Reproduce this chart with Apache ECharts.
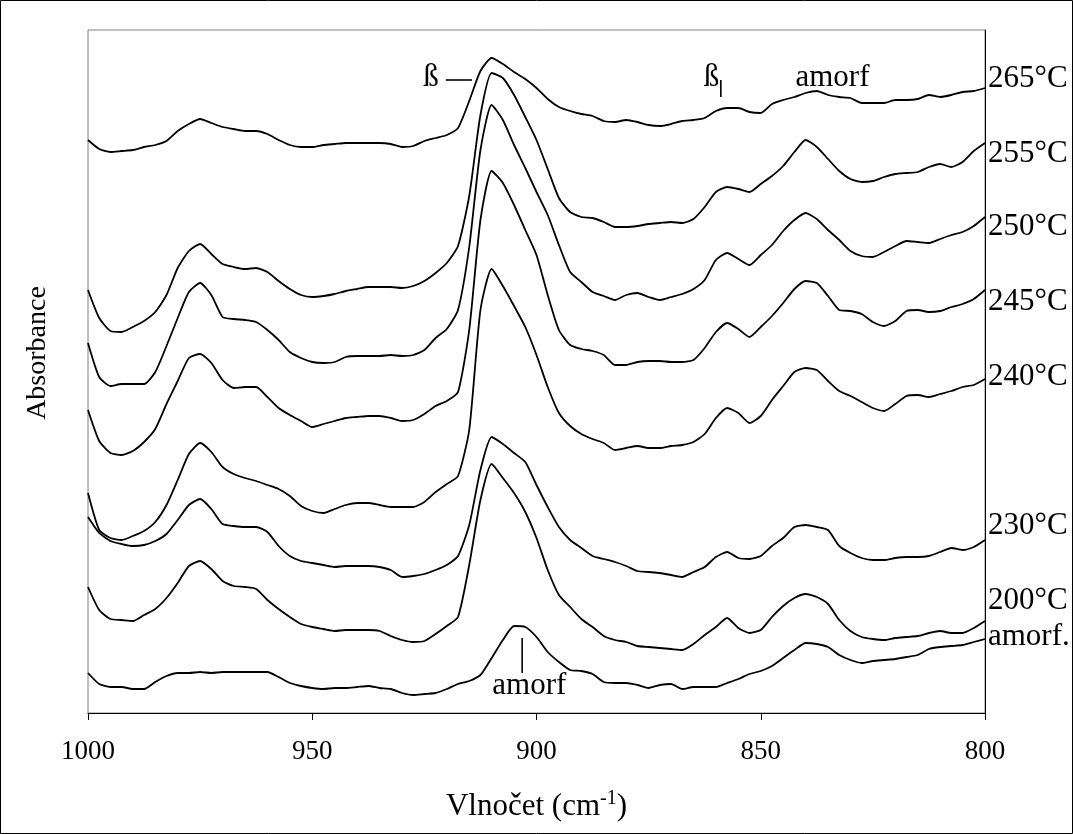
<!DOCTYPE html>
<html>
<head>
<meta charset="utf-8">
<script src="https://cdn.jsdelivr.net/npm/echarts@6/dist/echarts.min.js"></script>
<style>
  html,body{margin:0;padding:0;background:#fff;}
  #chart{width:1073px;height:834px;}
</style>
</head>
<body>
<div id="chart"></div>
<script>
// wavenumber grid (cm-1), read every 2.5 cm-1
var wavenumbers = [1000,997.5,995,992.5,990,987.5,985,982.5,980,977.5,975,972.5,970,967.5,965,962.5,960,957.5,955,952.5,
  950,947.5,945,942.5,940,937.5,935,932.5,930,927.5,925,922.5,920,917.5,915,912.5,910,907.5,905,902.5,
  900,897.5,895,892.5,890,887.5,885,882.5,880,877.5,875,872.5,870,867.5,865,862.5,860,857.5,855,852.5,
  850,847.5,845,842.5,840,837.5,835,832.5,830,827.5,825,822.5,820,817.5,815,812.5,810,807.5,805,802.5,800];

// absorbance (offset traces, arbitrary units)
var a265 = [573,564,561,562,563,566,568,572,582,589, 594,590,586,584,582,582,579,573,568,566,
  566,568,569,570,570,570,570,569,566,567, 572,575,578,585,612,642,655,649,641,634,
  625,614,606,602,599,597,592,591,593,591, 588,587,589,592,593,595,602,605,605,601,
  600,609,613,616,620,622,618,616,615,610, 610,610,613,613,614,618,616,618,621,622, 625];
var a255 = [423,395,382,381,386,392,401,418,445,462, 469,459,449,446,444,445,441,432,424,418,
  416,417,419,422,424,426,426,426,425,427, 432,440,450,467,517,598,640,635,618,596,
  573,544,515,501,496,495,491,486,486,487, 489,490,491,490,494,506,521,526,524,521,
  529,537,547,561,573,566,554,542,534,531, 532,536,539,540,541,546,549,546,551,562, 570];
var a250 = [370,336,327,329,329,329,341,367,395,421, 430,418,396,394,393,391,383,373,361,355,
  351,350,351,356,357,357,357,358,357,358, 363,375,384,403,466,563,608,593,568,545,
  521,498,468,441,431,421,417,413,418,420, 416,413,416,419,424,433,453,460,454,448,
  458,468,482,493,500,494,483,473,462,457, 456,461,467,472,471,470,474,478,481,487, 496];
var a245 = [303,272,260,258,262,271,284,309,332,355, 359,350,333,325,326,326,316,305,298,292,
  286,289,292,295,296,297,297,295,292,293, 299,307,312,321,383,493,542,530,508,483,
  458,418,383,368,364,362,358,348,348,351, 352,352,351,351,353,365,381,390,384,376,
  386,397,410,424,432,430,417,403,402,399, 391,387,392,402,403,401,402,406,409,414, 423];
var a240 = [220,183,175,173,177,182,191,208,233,259, 270,261,246,239,235,232,228,224,217,207,
  202,200,204,208,210,210,208,206,206,206, 211,221,229,237,283,403,444,427,407,386,
  358,326,300,287,279,274,270,263,265,267, 265,265,267,268,271,279,295,305,300,290,
  297,313,327,341,345,343,332,322,317,311, 305,302,309,317,318,316,319,322,326,328, 334];
var a230 = [196,180,172,169,167,168,172,179,193,208, 214,204,189,187,186,186,181,167,157,152,
  150,148,146,147,147,147,146,143,136,137, 139,143,148,157,188,243,276,269,260,251,
  228,206,186,173,165,157,154,151,147,142, 141,140,138,136,141,146,156,161,155,154,
  157,167,175,186,188,186,183,167,160,155, 153,153,155,156,156,157,161,165,163,166, 173];
var a200 = [126,103,94,93,92,98,104,115,130,147, 152,144,132,127,126,124,113,104,96,89,
  86,84,82,83,83,83,82,77,73,71, 72,79,87,96,148,213,249,235,220,201,
  175,143,118,106,94,86,77,73,71,67, 66,65,64,63,69,78,86,95,85,80,
  83,96,107,115,119,116,109,93,82,76, 74,73,75,76,77,80,82,80,80,85, 92];
var aAmorf = [40,29,26,26,24,24,31,37,40,40, 41,40,41,41,41,41,41,36,30,27,
  25,24,25,25,26,27,25,24,20,18, 19,20,24,29,32,38,55,73,87,86,
  76,61,51,43,42,39,31,30,30,28, 25,28,29,24,26,26,26,30,34,39,
  42,47,55,63,70,69,66,58,53,50, 52,53,54,56,58,64,66,67,68,71, 74];

var traceNames = ['265°C','255°C','250°C','245°C','240°C','230°C','200°C','amorf.'];
var traces = [a265,a255,a250,a245,a240,a230,a200,aAmorf];
// vertical shift of each right-hand label from its trace end (px)
var labelShift = [-9,11,10,12,-2,-14,-20,-2];

// band annotations in data coordinates
var noteTexts = [
  {text:'ß', x:923.5, y:635},
  {text:'ß', x:861, y:635},
  {text:'amorf', x:834, y:635},
  {text:'amorf', x:901.6, y:27}
];
var noteLines = [
  [[920.2,633],[914.4,633]],
  [[858.9,633],[858.9,616]],
  [[903.2,75],[903.2,40]]
];

var FONT = '"Liberation Serif","Times New Roman",serif';
var chart = echarts.init(document.getElementById('chart'));

var series = [];
for (var s = 0; s < traces.length; s++) {
  series.push({
    name: traceNames[s],
    type: 'line',
    data: wavenumbers.map(function(w, i){ return [w, traces[s][i]]; }),
    showSymbol: false,
    smooth: 0.2,
    lineStyle: {color:'#000', width:1.8},
    itemStyle: {color:'#000'},
    silent: true
  });
}

chart.setOption({
  animation: false,
  backgroundColor: '#fff',
  grid: {left:88, right:88, top:30, bottom:121, show:true, borderColor:'#808080', borderWidth:1},
  xAxis: {
    type:'value', min:800, max:1000, interval:50, inverse:true,
    axisLine:{lineStyle:{color:'#000', width:1}},
    axisTick:{show:true, length:7, lineStyle:{color:'#000'}},
    axisLabel:{color:'#000', fontSize:27, fontFamily:FONT, margin:25,
      formatter:function(v){ return String(v); }},
    splitLine:{show:false},
    name:'{n|Vlnočet (cm}{s|-1}{n|)}',
    nameLocation:'middle', nameGap:76,
    nameTextStyle:{rich:{
      n:{fontSize:31, fontFamily:FONT, color:'#000'},
      s:{fontSize:20, fontFamily:FONT, color:'#000', padding:[0,0,16,0]}
    }}
  },
  yAxis: [{
    type:'value', min:0, max:683, position:'left', show:false
  },{
    type:'value', min:0, max:683, position:'right',
    axisLine:{show:true, lineStyle:{color:'#000', width:1}},
    axisTick:{show:false}, axisLabel:{show:false}, splitLine:{show:false}
  }],
  series: series
});

// text and marks placed from data coordinates
var graphics = [{
  type:'rect', shape:{x:0.5, y:0.5, width:1072, height:833},
  style:{fill:null, stroke:'#000', lineWidth:1}, silent:true
},{
  type:'text', silent:true, x:38, y:353, rotation:Math.PI/2,
  style:{text:'Absorbance', font:'28px ' + FONT, fill:'#000', align:'center', verticalAlign:'middle'}
}];
function px(p){ return chart.convertToPixel({gridIndex:0}, p); }
for (var k = 0; k < traces.length; k++) {
  var last = traces[k].length - 1;
  var pt = px([wavenumbers[last], traces[k][last]]);
  graphics.push({type:'text', silent:true, style:{
    text: traceNames[k], x: pt[0] + 3, y: pt[1] + labelShift[k],
    font: '31px ' + FONT, fill:'#000', align:'left', verticalAlign:'middle'
  }});
}
noteTexts.forEach(function(n){
  var p = px([n.x, n.y]);
  graphics.push({type:'text', silent:true, style:{
    text:n.text, x:p[0], y:p[1], font:'31px ' + FONT, fill:'#000', align:'center', verticalAlign:'middle'
  }});
});
noteLines.forEach(function(l){
  var p1 = px(l[0]), p2 = px(l[1]);
  graphics.push({type:'line', silent:true, shape:{x1:p1[0], y1:p1[1], x2:p2[0], y2:p2[1]},
    style:{stroke:'#000', lineWidth:1.6}});
});
chart.setOption({graphic: graphics});
</script>
</body>
</html>
